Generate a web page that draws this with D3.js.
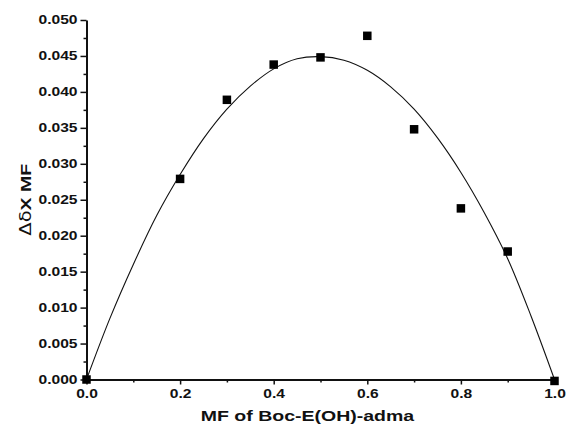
<!DOCTYPE html>
<html>
<head>
<meta charset="utf-8">
<script src="https://cdn.jsdelivr.net/npm/d3@7"></script>
<style>
  html, body { margin: 0; padding: 0; background: #fff; }
  svg { display: block; }
  .tick text, .lbl { font-family: "Liberation Sans", Arial, sans-serif; font-weight: bold; fill: #111; }
</style>
</head>
<body>
<svg id="chart" width="568" height="434"></svg>
<script>
// Mole fraction of Boc-E(OH)-adma (x) and measured Δδ × MF (y)
const mfValues = [0.0, 0.2, 0.3, 0.4, 0.5, 0.6, 0.7, 0.8, 0.9, 1.0];
const deltaValues = [0.0, 0.0279, 0.0389, 0.0438, 0.0448, 0.0478, 0.0348, 0.0238, 0.0178, -0.0002];

// Fitted curve, sampled along x
const fitX = [0.0, 0.05, 0.1, 0.15, 0.2, 0.25, 0.3, 0.35, 0.4, 0.45, 0.5, 0.55, 0.6, 0.65, 0.7, 0.75, 0.8, 0.85, 0.9, 0.95, 1.0];
const fitY = [0.0, 0.0085, 0.0160, 0.0228, 0.0285, 0.0335, 0.0376, 0.0408, 0.0432, 0.0446, 0.0449, 0.0444, 0.0430, 0.0407, 0.0376, 0.0336, 0.0288, 0.0232, 0.0168, 0.0088, 0.0];

// Axis ticks
const xMajorTicks = [0.0, 0.2, 0.4, 0.6, 0.8, 1.0];
const xMinorTicks = [0.1, 0.3, 0.5, 0.7, 0.9];
const yMajorTicks = [0.000, 0.005, 0.010, 0.015, 0.020, 0.025, 0.030, 0.035, 0.040, 0.045, 0.050];
const yMinorTicks = [0.0025, 0.0075, 0.0125, 0.0175, 0.0225, 0.0275, 0.0325, 0.0375, 0.0425, 0.0475];

const xTitle = "MF of Boc-E(OH)-adma";

const svg = d3.select("#chart");
const x = d3.scaleLinear().domain([0, 1]).range([86.5, 554.5]);
const y = d3.scaleLinear().domain([0, 0.05]).range([379.5, 20]);

// Glyphs in this figure are set wider than the font's natural proportions
const STRETCH = 1.3;
function widen(sel) {
  sel.each(function () {
    const w = this.getComputedTextLength();
    d3.select(this).attr("textLength", w * STRETCH).attr("lengthAdjust", "spacingAndGlyphs");
  });
}

// Minor ticks
svg.append("g").attr("transform", `translate(${x(0)},0)`)
  .call(d3.axisLeft(y).tickValues(yMinorTicks).tickSize(3).tickFormat(""))
  .call(g => g.select(".domain").remove())
  .selectAll("line").attr("stroke", "#111").attr("stroke-width", 1.5);
svg.append("g").attr("transform", `translate(0,${y(0)})`)
  .call(d3.axisBottom(x).tickValues(xMinorTicks).tickSize(3).tickFormat(""))
  .call(g => g.select(".domain").remove())
  .selectAll("line").attr("stroke", "#111").attr("stroke-width", 1.5);

// Major y axis
const gy = svg.append("g").attr("transform", `translate(${x(0)},0)`)
  .call(d3.axisLeft(y).tickValues(yMajorTicks).tickSize(6).tickSizeOuter(0).tickPadding(3).tickFormat(d3.format(".3f")));
gy.select(".domain").attr("stroke", "#111").attr("stroke-width", 2);
gy.selectAll(".tick line").attr("stroke", "#111").attr("stroke-width", 1.5);
gy.selectAll(".tick text").attr("font-size", 12).call(widen);

// Major x axis
const gx = svg.append("g").attr("transform", `translate(0,${y(0)})`)
  .call(d3.axisBottom(x).tickValues(xMajorTicks).tickSize(5).tickSizeOuter(0).tickPadding(5).tickFormat(d3.format(".1f")));
gx.select(".domain").attr("stroke", "#111").attr("stroke-width", 2);
gx.selectAll(".tick line").attr("stroke", "#111").attr("stroke-width", 1.5);
gx.selectAll(".tick text").attr("font-size", 12).call(widen);

// Axis titles
svg.append("text").attr("class", "lbl")
  .attr("x", (x(0) + x(1)) / 2 - 13).attr("y", 421)
  .attr("text-anchor", "middle").attr("font-size", 15)
  .text(xTitle).call(widen);

const yt = svg.append("text").attr("class", "lbl")
  .attr("transform", `translate(31,${y(0.025)}) rotate(-90)`)
  .attr("text-anchor", "middle").attr("font-size", 15);
yt.append("tspan").attr("font-weight", "normal").attr("font-family", "DejaVu Sans, sans-serif").text("Δδ");
yt.append("tspan").text("X MF");
yt.call(widen);

// Fitted curve
const line = d3.line().x((d, i) => x(fitX[i])).y(d => y(d)).curve(d3.curveCatmullRom);
svg.append("path").datum(fitY)
  .attr("d", line).attr("fill", "none").attr("stroke", "#111").attr("stroke-width", 1.1);

// Data points
const S = 8.5;
svg.append("g").selectAll("rect").data(mfValues).join("rect")
  .attr("x", d => x(d) - S / 2)
  .attr("y", (d, i) => y(deltaValues[i]) - S / 2)
  .attr("width", S).attr("height", S)
  .attr("fill", "#000");
</script>
</body>
</html>
